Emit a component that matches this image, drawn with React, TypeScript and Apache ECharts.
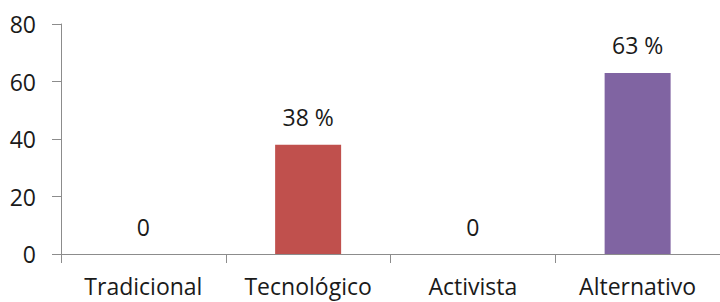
import React, { useEffect, useRef } from "react";
import * as echarts from "echarts";

const categories = ["Tradicional", "Tecnológico", "Activista", "Alternativo"];
const values = [0, 38, 0, 63];
const barColors = ["#4F81BD", "#C0504D", "#9BBB59", "#8064A2"];
const yTicks = { min: 0, max: 80, interval: 20 };

const FONT = "Open Sans";

export default function App() {
  const ref = useRef<HTMLDivElement>(null);
  useEffect(() => {
    if (!ref.current) return;
    const chart = echarts.init(ref.current, null, { renderer: "svg" });
    chart.setOption({
      animation: false,
      grid: { left: 61, top: 24, width: 668, height: 230, containLabel: false },
      xAxis: {
        type: "category",
        data: categories,
        axisLine: { lineStyle: { color: "#8c8c8c", width: 1 } },
        axisTick: { show: true, length: 9, lineStyle: { color: "#8c8c8c" } },
        axisLabel: {
          color: "#1a1a1a",
          fontSize: 23,
          fontFamily: FONT,
          margin: 20,
          interval: 0,
          hideOverlap: false,
        },
      },
      yAxis: {
        type: "value",
        min: yTicks.min,
        max: yTicks.max,
        interval: yTicks.interval,
        splitLine: { show: false },
        axisLine: { show: true, lineStyle: { color: "#8c8c8c", width: 1 } },
        axisTick: { show: true, length: 9, lineStyle: { color: "#8c8c8c" } },
        axisLabel: { color: "#1a1a1a", fontSize: 23, fontFamily: FONT, margin: 25 },
      },
      series: [
        {
          type: "bar",
          barWidth: 66,
          data: values.map((v, i) => ({ value: v, itemStyle: { color: barColors[i] } })),
          label: {
            show: true,
            position: "top",
            distance: 16,
            color: "#1a1a1a",
            fontSize: 23,
            fontFamily: FONT,
            formatter: (p: any) => (p.value === 0 ? "0" : p.value + " %"),
          },
        },
      ],
    });
    return () => chart.dispose();
  }, []);
  return <div ref={ref} style={{ width: 720, height: 302, position: "absolute", left: 0, top: 0 }} />;
}
